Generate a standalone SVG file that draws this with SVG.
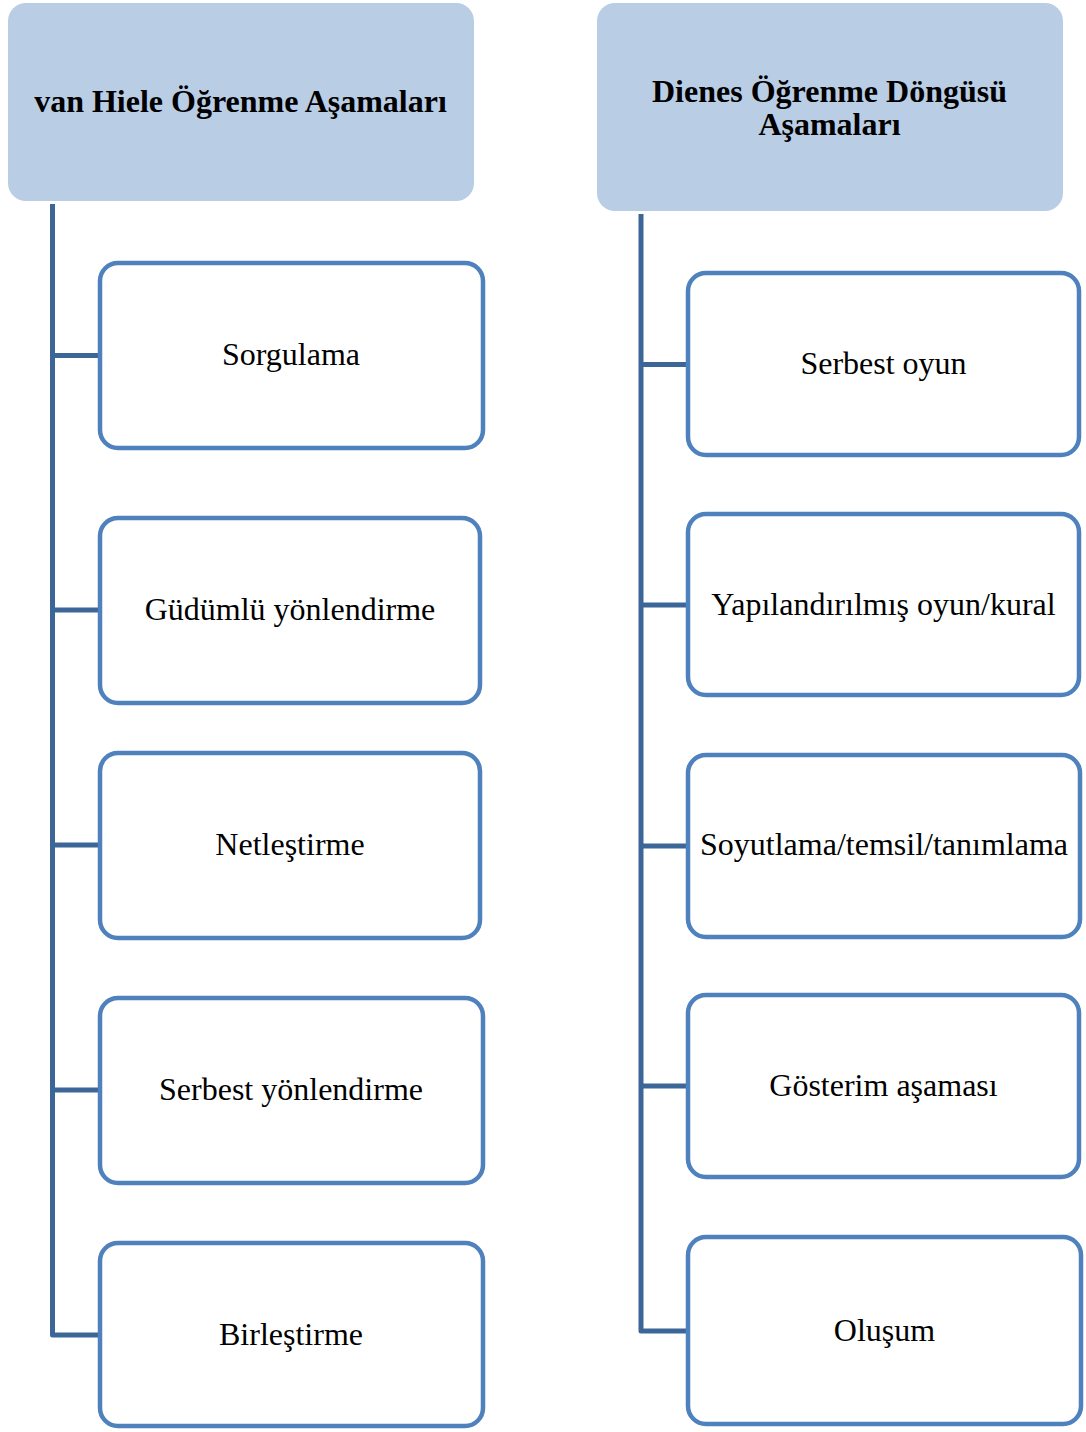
<svg xmlns="http://www.w3.org/2000/svg" width="1086" height="1432" viewBox="0 0 1086 1432">
<style>
.hdr{fill:#B9CDE5;stroke:none}
.box{fill:#FFFFFF;stroke:#4F81BD;stroke-width:4.5}
.con{fill:none;stroke:#3D6698;stroke-width:5;stroke-linejoin:round}
.ht{font-family:"Liberation Serif","Times New Roman",serif;font-weight:bold;font-size:32px;fill:#000;text-anchor:middle}
.bt{font-family:"Liberation Serif","Times New Roman",serif;font-size:32px;fill:#000;text-anchor:middle}
</style>
<rect width="1086" height="1432" fill="#FFFFFF"/>
<g id="connectors">
<path class="con" d="M52.5 204 V1335 H99"/>
<path class="con" d="M52.5 355.5 H99 M52.5 610 H99 M52.5 845 H99 M52.5 1090 H99"/>
<path class="con" d="M641 214 V1331 H687"/>
<path class="con" d="M641 364.5 H687 M641 605 H687 M641 846 H687 M641 1086 H687"/>
</g>
<g id="header-vanhiele">
<rect class="hdr" x="8" y="3" width="466" height="198" rx="18"/>
<text class="ht" x="240.5" y="112">van Hiele Öğrenme Aşamaları</text>
</g>
<g id="header-dienes">
<rect class="hdr" x="597" y="3" width="466" height="208" rx="18"/>
<text class="ht" x="829.5" y="102">Dienes Öğrenme Döngüsü</text>
<text class="ht" x="829.5" y="135">Aşamaları</text>
</g>
<g id="l1"><rect class="box" x="100" y="263" width="383" height="185" rx="18"/><text class="bt" x="291" y="365">Sorgulama</text></g>
<g id="l2"><rect class="box" x="100" y="518" width="380" height="185" rx="18"/><text class="bt" x="290" y="620">Güdümlü yönlendirme</text></g>
<g id="l3"><rect class="box" x="100" y="753" width="380" height="185" rx="18"/><text class="bt" x="290" y="855">Netleştirme</text></g>
<g id="l4"><rect class="box" x="100" y="998" width="383" height="185" rx="18"/><text class="bt" x="291" y="1100">Serbest yönlendirme</text></g>
<g id="l5"><rect class="box" x="100" y="1243" width="383" height="183" rx="18"/><text class="bt" x="291" y="1345">Birleştirme</text></g>
<g id="r1"><rect class="box" x="688" y="273" width="391" height="182" rx="18"/><text class="bt" x="883.5" y="374">Serbest oyun</text></g>
<g id="r2"><rect class="box" x="688" y="514" width="391" height="181" rx="18"/><text class="bt" x="883.5" y="615">Yapılandırılmış oyun/kural</text></g>
<g id="r3"><rect class="box" x="688" y="755" width="392" height="182" rx="18"/><text class="bt" x="884" y="855">Soyutlama/temsil/tanımlama</text></g>
<g id="r4"><rect class="box" x="688" y="995" width="391" height="182" rx="18"/><text class="bt" x="883.5" y="1096">Gösterim aşaması</text></g>
<g id="r5"><rect class="box" x="688" y="1237" width="393" height="187" rx="18"/><text class="bt" x="884.5" y="1341">Oluşum</text></g>
</svg>
